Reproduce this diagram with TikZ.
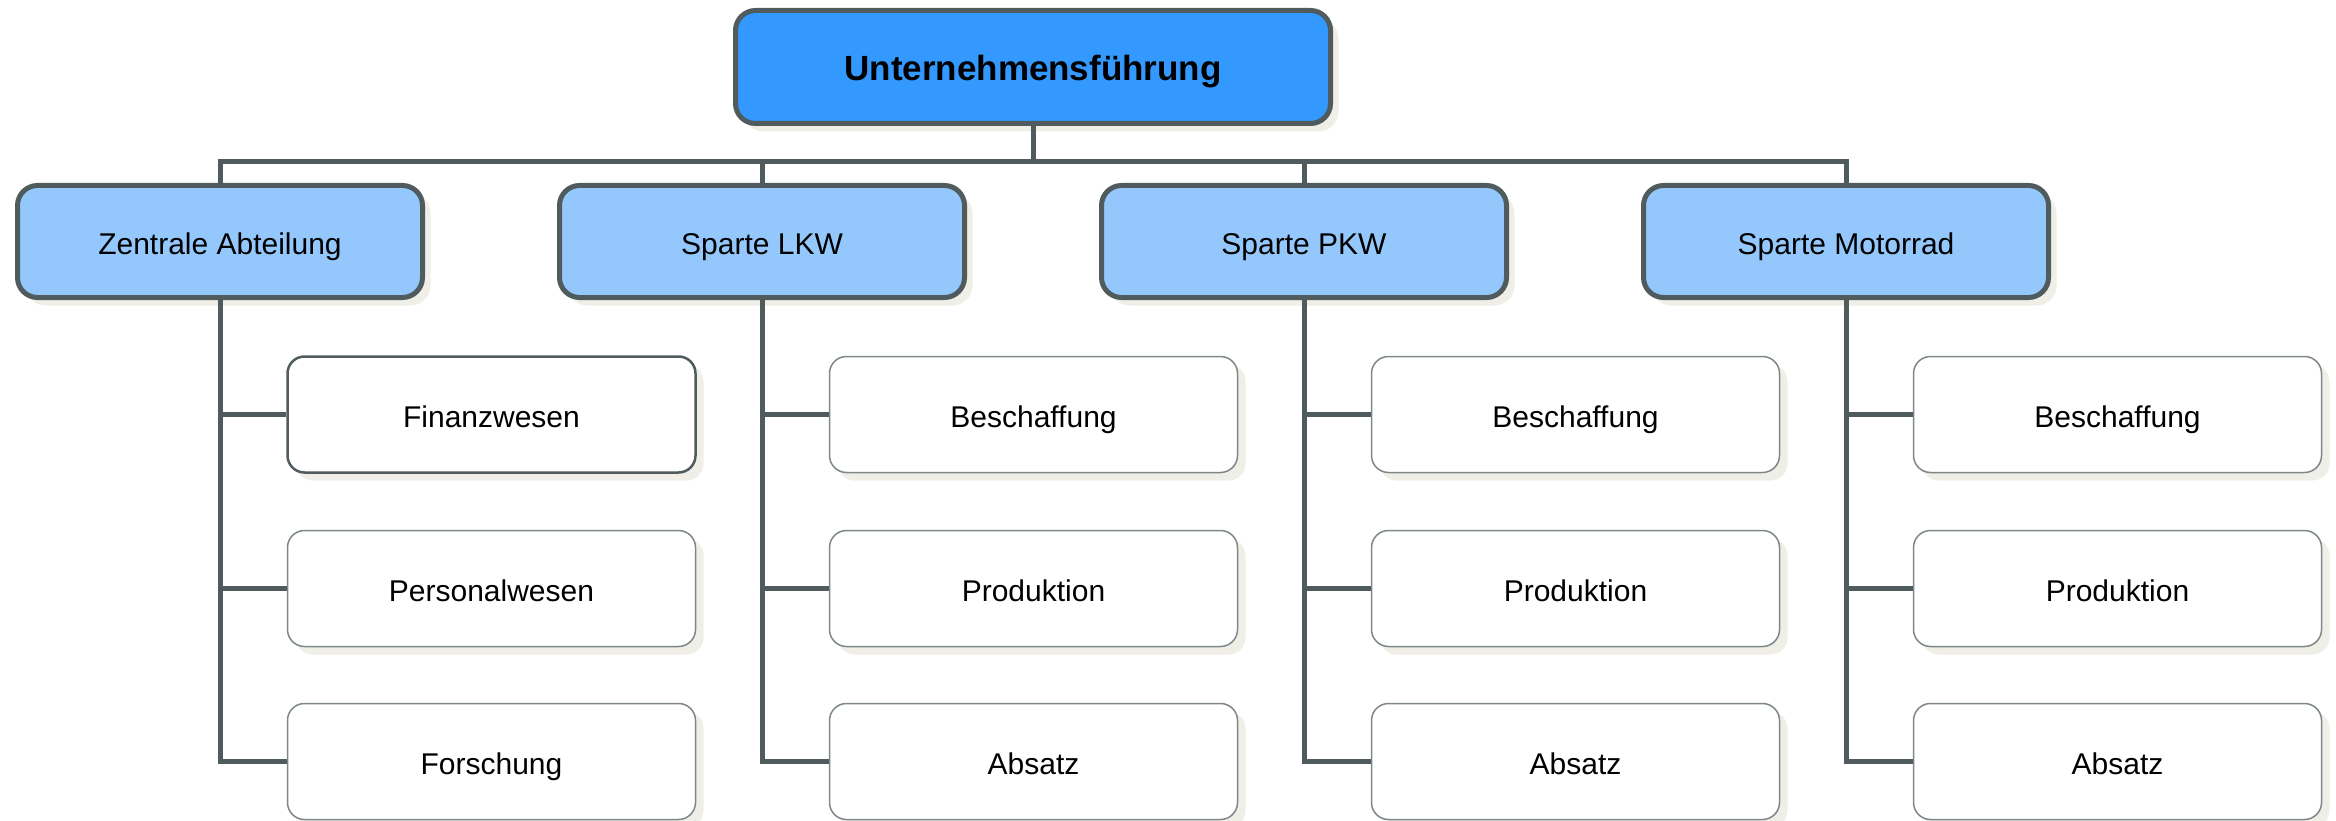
\documentclass[tikz,border=0pt]{standalone}
\usepackage{fontspec}
\setmainfont{Liberation Sans}
\usetikzlibrary{shadows}
\definecolor{linec}{HTML}{4F5B5C}
\definecolor{topfill}{HTML}{3399FF}
\definecolor{divfill}{HTML}{94C8FD}
\definecolor{shadowc}{HTML}{EFEEE7}
\definecolor{leafline}{HTML}{7E8888}
\begin{document}
\begin{tikzpicture}[x=1pt,y=-1pt,
  box/.style={rectangle, inner sep=0pt, align=center,
    font=\fontsize{30}{36}\selectfont, text height=25.5pt, text depth=0pt,
    drop shadow={shadow xshift=8pt, shadow yshift=-8pt, fill=shadowc, opacity=1}},
  topbox/.style={box, draw=linec, line width=5pt, fill=topfill, rounded corners=20pt,
    minimum width=595pt, minimum height=113pt, text height=28pt,
    font=\fontsize{35}{42}\selectfont\bfseries},
  divbox/.style={box, draw=linec, line width=5pt, fill=divfill, rounded corners=20pt,
    minimum width=405pt, minimum height=112pt},
  leafbox/.style={box, draw=leafline, line width=1.5pt, fill=white, rounded corners=17pt,
    minimum width=408pt, minimum height=116pt},
  selleaf/.style={leafbox, draw=linec, line width=2.5pt},
  conn/.style={draw=linec, line width=5pt, line join=miter}]
\useasboundingbox (0,0) rectangle (2336,821);

% head of the company
\node[topbox] (top) at (1033,67) {Unternehmensführung};

% divisions
\node[divbox] (d1) at (220,241.5) {Zentrale Abteilung};
\node[divbox] (d2) at (762,241.5) {Sparte LKW};
\node[divbox] (d3) at (1304,241.5) {Sparte PKW};
\node[divbox] (d4) at (1846,241.5) {Sparte Motorrad};

% departments
\node[selleaf]  (l11) at (491.5,414.5) {Finanzwesen};
\node[leafbox]  (l12) at (491.5,588.5) {Personalwesen};
\node[leafbox]  (l13) at (491.5,761.5) {Forschung};
\node[leafbox]  (l21) at (1033.5,414.5) {Beschaffung};
\node[leafbox]  (l22) at (1033.5,588.5) {Produktion};
\node[leafbox]  (l23) at (1033.5,761.5) {Absatz};
\node[leafbox]  (l31) at (1575.5,414.5) {Beschaffung};
\node[leafbox]  (l32) at (1575.5,588.5) {Produktion};
\node[leafbox]  (l33) at (1575.5,761.5) {Absatz};
\node[leafbox]  (l41) at (2117.5,414.5) {Beschaffung};
\node[leafbox]  (l42) at (2117.5,588.5) {Produktion};
\node[leafbox]  (l43) at (2117.5,761.5) {Absatz};

% bus from the head to the divisions
\foreach \d in {d1,d2,d3,d4}
  \draw[conn] (top.south) -- ++(0,36) -| (\d.north);

% stems from each division to its departments
\foreach \i in {1,2,3,4}
  \foreach \j in {1,2,3}
    \draw[conn] (d\i.south) |- (l\i\j.west);
\end{tikzpicture}
\end{document}
